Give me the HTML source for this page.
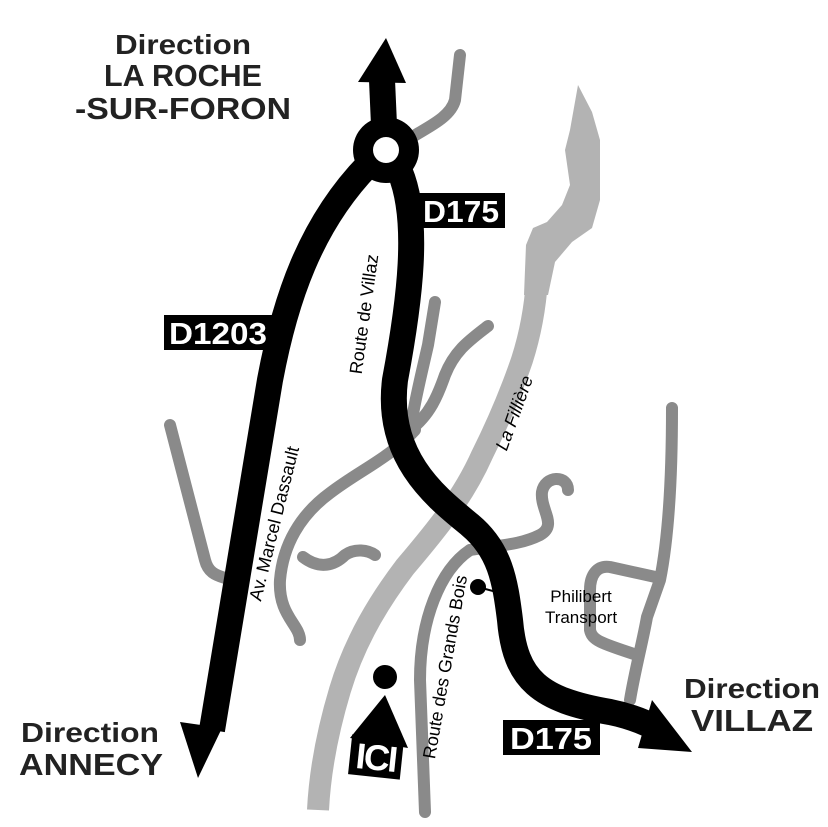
<!DOCTYPE html>
<html><head><meta charset="utf-8"><style>
html,body{margin:0;padding:0;background:#fff;}
svg{display:block;}
text{font-family:"Liberation Sans",sans-serif;}
</style></head><body>
<svg width="828" height="827" viewBox="0 0 828 827" xmlns="http://www.w3.org/2000/svg">
<!-- river -->
<polygon points="578,85 592,112 600,140 600,200 592,228 572,242 555,262 548,295 524,295 526,245 533,228 547,222 562,205 570,185 565,150 570,130" fill="#b3b3b3"/>
<path d="M537,280 C535,310 530,335 522,360 C510,395 497,425 482,455 C462,500 432,535 405,567 C380,600 355,640 340,690 C328,730 320,770 318,810" fill="none" stroke="#b3b3b3" stroke-width="22" stroke-linecap="butt"/>
<!-- gray roads -->
<g fill="none" stroke="#8a8a8a" stroke-width="12" stroke-linecap="round" stroke-linejoin="round">
<path d="M460,55 L455,100 C450,120 420,130 405,142"/>
<path d="M435,302 L428,345 C420,380 415,400 412,420"/>
<path d="M488,326 C470,340 455,350 445,375 C438,395 430,415 410,430"/>
<path d="M415,430 C390,458 360,470 330,493 C300,515 283,545 280,580 C278,615 300,625 300,640"/>
<path d="M303,557 C320,570 335,565 345,555 C355,548 368,550 375,555"/>
<path d="M170,425 L205,560 C208,572 215,575 225,578"/>
<path d="M568,490 C568,475 545,475 542,492 C540,510 558,525 540,535 C520,545 500,545 470,550"/>
<path d="M470,550 C440,570 420,620 420,680 L425,812"/>
<path d="M672,408 C672,480 668,540 660,580 L647,617 C643,640 635,670 630,700"/>
<path d="M660,578 L610,567 C597,565 590,575 590,590 L590,630 C592,640 600,643 637,655"/>
</g>
<!-- black roads -->
<g fill="none" stroke="#000" stroke-width="26" stroke-linejoin="round">
<path d="M368,165 C310,225 285,300 270,380 L212,730"/>
<path d="M400,172 C420,220 410,300 395,380 C385,460 440,500 470,525 C500,550 505,580 510,620 C515,680 540,700 610,712 C630,716 645,722 660,730"/>
<path d="M384,125 L382,80"/>
</g>
<polygon points="180,722 222,728 198,778" fill="#000"/>
<polygon points="386,38 406,83 358,82" fill="#000"/>
<polygon points="652,700 692,752 638,748" fill="#000"/>
<circle cx="386" cy="150" r="33" fill="#000"/>
<circle cx="386" cy="150" r="13" fill="#fff"/>
<!-- dots -->
<circle cx="478" cy="587" r="8" fill="#000"/>
<line x1="478" y1="587" x2="515" y2="597" stroke="#000" stroke-width="2"/>
<circle cx="385" cy="677" r="12" fill="#000"/>
<polygon points="385,695 408,748 350,738" fill="#000"/>
<!-- labels boxes -->
<rect x="418" y="193" width="87" height="35" fill="#000"/>
<text x="461" y="222" font-size="31" font-weight="bold" fill="#fff" text-anchor="middle" textLength="76" lengthAdjust="spacingAndGlyphs">D175</text>
<rect x="164" y="315" width="109" height="35" fill="#000"/>
<text x="218" y="344" font-size="31" font-weight="bold" fill="#fff" text-anchor="middle" textLength="98" lengthAdjust="spacingAndGlyphs">D1203</text>
<rect x="503" y="720" width="97" height="35" fill="#000"/>
<text x="551" y="749" font-size="31" font-weight="bold" fill="#fff" text-anchor="middle" textLength="82" lengthAdjust="spacingAndGlyphs">D175</text>
<g transform="translate(376,757) rotate(6)">
<rect x="-26" y="-20" width="52" height="40" fill="#000"/>
<text x="0" y="13" font-size="36" font-weight="bold" fill="#fff" text-anchor="middle" letter-spacing="-2">ICI</text>
</g>
<!-- direction texts -->
<g font-weight="bold" fill="#222">
<text x="183" y="54" font-size="28" text-anchor="middle" textLength="136" lengthAdjust="spacingAndGlyphs">Direction</text>
<text x="183" y="86" font-size="31" text-anchor="middle" textLength="158" lengthAdjust="spacingAndGlyphs">LA ROCHE</text>
<text x="183" y="119" font-size="31" text-anchor="middle" textLength="216" lengthAdjust="spacingAndGlyphs">-SUR-FORON</text>
<text x="90" y="742" font-size="28" text-anchor="middle" textLength="138" lengthAdjust="spacingAndGlyphs">Direction</text>
<text x="91" y="775" font-size="31" text-anchor="middle" textLength="144" lengthAdjust="spacingAndGlyphs">ANNECY</text>
<text x="752" y="698" font-size="28" text-anchor="middle" textLength="136" lengthAdjust="spacingAndGlyphs">Direction</text>
<text x="752" y="731" font-size="31" text-anchor="middle" textLength="122" lengthAdjust="spacingAndGlyphs">VILLAZ</text>
</g>
<!-- road names -->
<g font-size="18" fill="#000">
<text transform="translate(370,315) rotate(-82)" text-anchor="middle">Route de Villaz</text>
<text transform="translate(280,525) rotate(-76)" text-anchor="middle">Av. Marcel Dassault</text>
<text transform="translate(520,415) rotate(-70)" text-anchor="middle" font-style="italic">La Fillière</text>
<text transform="translate(451,668) rotate(-80)" text-anchor="middle">Route des Grands Bois</text>
<text x="581" y="602" font-size="17" text-anchor="middle">Philibert</text>
<text x="581" y="623" font-size="17" text-anchor="middle">Transport</text>
</g>
</svg>
</body></html>
